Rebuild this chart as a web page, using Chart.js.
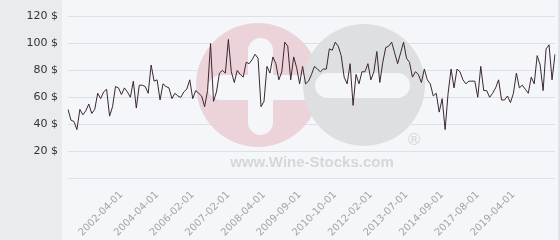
<!DOCTYPE html>
<html>
<head>
<meta charset="utf-8">
<script src="https://cdn.jsdelivr.net/npm/chart.js@4.4.1/dist/chart.umd.min.js"></script>
<style>
  html, body { margin: 0; padding: 0; background: #f5f6f9; }
  #wrap { width: 560px; height: 240px; position: relative; }
</style>
</head>
<body>
<div id="wrap"><canvas id="chartPrice"></canvas></div>
<script>
// Dates des ventes (axe catégoriel)
const dates = [
  "2000-10-01","2000-11-01","2000-12-01","2001-01-01","2001-02-01","2001-03-01",
  "2001-04-01","2001-05-01","2001-06-01","2001-07-01","2001-08-01","2001-09-01",
  "2001-10-01","2001-11-01","2001-12-01","2002-01-01","2002-02-01","2002-03-01",
  "2002-04-01","2002-06-01","2002-08-01","2002-10-01","2002-12-01","2003-02-01",
  "2003-04-01","2003-06-01","2003-08-01","2003-10-01","2003-12-01","2004-02-01",
  "2004-04-01","2004-06-01","2004-08-01","2004-10-01","2004-12-01","2005-02-01",
  "2005-04-01","2005-06-01","2005-08-01","2005-10-01","2005-11-01","2005-12-01",
  "2006-02-01","2006-03-01","2006-04-01","2006-05-01","2006-06-01","2006-07-01",
  "2006-08-01","2006-09-01","2006-10-01","2006-11-01","2006-12-01","2007-01-01",
  "2007-02-01","2007-03-01","2007-04-01","2007-05-01","2007-06-01","2007-07-01",
  "2007-09-01","2007-10-01","2007-11-01","2007-12-01","2008-01-01","2008-03-01",
  "2008-04-01","2008-05-01","2008-06-01","2008-08-01","2008-09-01","2008-10-01",
  "2008-12-01","2009-01-01","2009-02-01","2009-04-01","2009-05-01","2009-07-01",
  "2009-09-01","2009-10-01","2009-11-01","2009-12-01","2010-01-01","2010-02-01",
  "2010-03-01","2010-04-01","2010-05-01","2010-06-01","2010-07-01","2010-09-01",
  "2010-10-01","2010-11-01","2010-12-01","2011-02-01","2011-03-01","2011-04-01",
  "2011-05-01","2011-07-01","2011-08-01","2011-09-01","2011-11-01","2011-12-01",
  "2012-02-01","2012-03-01","2012-05-01","2012-06-01","2012-07-01","2012-09-01",
  "2012-10-01","2012-11-01","2013-01-01","2013-02-01","2013-03-01","2013-05-01",
  "2013-07-01","2013-08-01","2013-09-01","2013-10-01","2013-11-01","2013-12-01",
  "2014-01-01","2014-02-01","2014-03-01","2014-05-01","2014-06-01","2014-07-01",
  "2014-09-01","2014-12-01","2015-03-01","2015-06-01","2015-09-01","2015-12-01",
  "2016-03-01","2016-06-01","2016-09-01","2016-12-01","2017-02-01","2017-05-01",
  "2017-08-01","2017-09-01","2017-11-01","2018-01-01","2018-02-01","2018-04-01",
  "2018-06-01","2018-07-01","2018-09-01","2018-10-01","2018-12-01","2019-02-01",
  "2019-04-01","2019-06-01","2019-08-01","2019-10-01","2019-12-01","2020-02-01",
  "2020-04-01","2020-06-01","2020-08-01","2020-10-01","2020-12-01","2021-02-01",
  "2021-04-01","2021-06-01","2021-08-01"
];

// Prix relevés ($)
const prices = [
  51, 43, 42, 36, 51, 47, 50, 55, 48, 51, 63, 59, 64, 66, 46, 53, 68, 67,
  62, 67, 64, 60, 72, 52, 69, 69, 68, 63, 84, 72, 73, 58, 70, 68, 67, 59,
  63, 61, 60, 64, 66, 73,
  59, 65, 63, 61, 53, 65, 100, 57, 64, 78, 80, 78, 103, 79, 71, 80, 77, 75,
  86, 85, 88, 92, 89, 53, 57, 83, 78, 90, 85, 73, 79, 101, 98, 73, 90, 82,
  70, 83, 70, 72, 77,
  83, 81, 79, 81, 81, 96, 95, 101, 98, 91, 75, 70, 85, 54, 77, 70, 79, 79,
  85, 73, 79, 94, 71, 86, 97, 98, 101, 93, 85, 93, 101, 89, 86, 75, 79, 77,
  71, 81, 73, 70, 61, 63, 49,
  59, 36, 63, 81, 67, 81, 79, 73, 70, 72, 72, 72, 60, 83, 65, 65, 60, 63,
  67, 73, 58, 58, 61, 56, 63, 78, 67, 69, 66, 63, 75, 70, 91, 84, 65, 96,
  99, 73, 92
];

// Étiquettes visibles sur l'axe des X
const shownDates = [
  "2002-04-01","2004-04-01","2006-02-01","2007-02-01","2008-04-01","2009-09-01",
  "2010-10-01","2012-02-01","2013-07-01","2014-09-01","2017-08-01","2019-04-01"
];

const Y_MIN = 0;
const Y_MAX = 120;
const Y_STEP = 20;

// ---------- Fond + filigrane ----------
const backdrop = {
  id: "backdrop",
  beforeDraw(chart) {
    const { ctx, width, height } = chart;
    ctx.save();
    ctx.fillStyle = "#f5f6f9";
    ctx.fillRect(0, 0, width, height);
    ctx.fillStyle = "#e8ecef";
    ctx.fillRect(0, 0, 62, height);
    ctx.fillStyle = "#dfe2e6";
    ctx.fillRect(558, 0, 2, height);
    ctx.restore();
  },
  beforeDatasetsDraw(chart) {
    const ctx = chart.ctx;
    const pill = (x, y, w, h) => {
      const r = Math.min(w, h) / 2;
      ctx.beginPath();
      ctx.moveTo(x + r, y);
      ctx.arcTo(x + w, y, x + w, y + h, r);
      ctx.arcTo(x + w, y + h, x, y + h, r);
      ctx.arcTo(x, y + h, x, y, r);
      ctx.arcTo(x, y, x + w, y, r);
      ctx.closePath();
      ctx.fill();
    };
    ctx.save();
    // rond rose
    ctx.fillStyle = "#ecd3da";
    ctx.beginPath(); ctx.arc(258, 85, 62, 0, Math.PI * 2); ctx.fill();
    ctx.fillStyle = "#f5f6f9";
    pill(208, 75, 110, 25);
    pill(248, 38, 25, 97);
    // rond gris
    ctx.fillStyle = "#dedfe1";
    ctx.beginPath(); ctx.arc(364, 85, 61, 0, Math.PI * 2); ctx.fill();
    ctx.fillStyle = "#f5f6f9";
    pill(315, 73, 95, 25);
    // texte
    ctx.fillStyle = "#d6d7da";
    ctx.font = "bold 15px 'Liberation Sans', Arial, sans-serif";
    ctx.textAlign = "center";
    ctx.textBaseline = "alphabetic";
    ctx.fillText("www.Wine-Stocks.com", 312, 167);
    ctx.font = "16px 'DejaVu Sans', sans-serif";
    ctx.fillText("®", 414, 145);
    ctx.restore();
  }
};

function initChart() {
  const el = document.getElementById("chartPrice");
  new Chart(el, {
    type: "line",
    data: {
      labels: dates,
      datasets: [{
        data: prices,
        borderColor: "#3b2733",
        borderWidth: 1,
        pointRadius: 0,
        tension: 0,
        fill: false
      }]
    },
    options: {
      responsive: true,
      maintainAspectRatio: false,
      animation: false,
      layout: { padding: { top: 5, right: 5, left: 0, bottom: 0 } },
      plugins: { legend: { display: false }, tooltip: { enabled: false } },
      scales: {
        x: {
          grid: { display: false, drawTicks: false },
          border: { display: false },
          afterFit(scale) { scale.height = 62; },
          ticks: {
            autoSkip: false,
            minRotation: 45,
            maxRotation: 45,
            padding: 11,
            color: "#a3a4a8",
            font: { family: "'DejaVu Sans', sans-serif", size: 10 },
            callback(value) {
              const lbl = this.getLabelForValue(value);
              return shownDates.includes(lbl) ? lbl : null;
            }
          }
        },
        y: {
          min: Y_MIN,
          max: Y_MAX,
          grid: { color: "#dfe0e6", drawTicks: false },
          border: { display: false },
          afterFit(scale) { scale.width = 68; },
          ticks: {
            stepSize: Y_STEP,
            padding: 10,
            color: "#333333",
            font: { family: "'DejaVu Sans', sans-serif", size: 11 },
            callback(value) { return value === 0 ? "" : `${value} $`; }
          }
        }
      }
    },
    plugins: [backdrop]
  });
}

document.addEventListener("DOMContentLoaded", initChart);
</script>
</body>
</html>
